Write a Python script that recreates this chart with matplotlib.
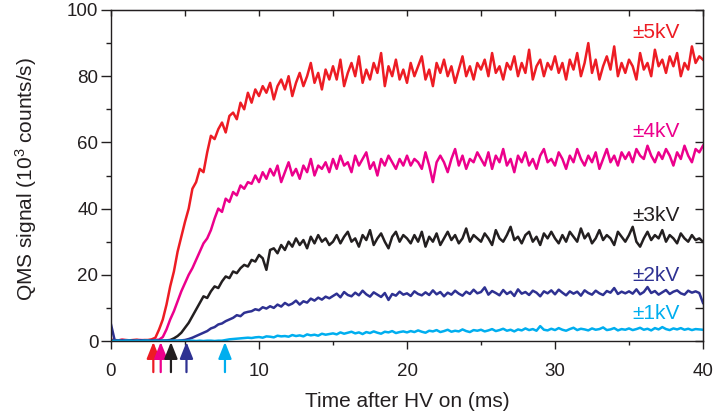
import numpy as np
import matplotlib
matplotlib.use("Agg")
import matplotlib.pyplot as plt

plt.rcParams['font.family'] = ['Liberation Sans', 'DejaVu Sans']
plt.rcParams['mathtext.fontset'] = 'custom'
plt.rcParams['mathtext.rm'] = 'Liberation Sans'
plt.rcParams['mathtext.it'] = 'Liberation Sans:italic'

# time base of the QMS traces (ms), one sample every 0.25 ms
t = np.arange(161) * 0.25

# QMS signal (10^3 counts/s) for each HV setting
sig_5kV = [
    0.4, 0.3, 0.2, 0.4, 0.3, 0.2, 0.3, 0.4, 0.2, 0.3, 0.3, 0.5, 1.0, 3.5, 6.5, 11.0, 16.5, 21.0, 27.0, 31.5,
    36, 40, 46, 48, 52, 51, 57, 62, 61, 64, 66, 63, 68, 69, 67, 72, 70, 75, 72, 76,
    74, 77, 75, 78, 73, 77, 79, 76, 80, 74, 78, 81, 77, 80, 84, 78, 81, 76, 82, 79,
    83, 79, 85, 77, 81, 84, 80, 86, 78, 82, 79, 84, 81, 87, 77, 83, 80, 85, 79, 82,
    78, 84, 80, 83, 86, 79, 82, 77, 84, 81, 85, 80, 83, 78, 82, 86, 80, 83, 79, 84,
    82, 85, 80, 87, 81, 83, 79, 84, 82, 86, 80, 84, 81, 88, 79, 83, 85, 80, 84, 82,
    86, 81, 84, 79, 85, 82, 87, 80, 84, 90, 81, 85, 79, 83, 86, 82, 89, 80, 84, 81,
    85, 83, 79, 87, 82, 84, 80, 88, 83, 85, 81, 86, 83, 87, 80, 84, 82, 89, 84, 86,
    85,
]
sig_4kV = [
    0.2, 0.1, 0.2, 0.3, 0.2, 0.1, 0.2, 0.2, 0.3, 0.2, 0.1, 0.2, 0.3, 0.4, 1.2, 3.5, 6.5, 9.0, 12.0, 15.0,
    17.5, 20, 22, 24.5, 27, 29.5, 31, 33.5, 37, 40, 39, 43, 42, 45, 44, 47, 46, 48, 47.5, 50,
    48, 51, 49, 52, 50, 53, 48, 51, 54, 50, 52, 49, 53, 51, 55, 50, 53, 52, 54, 51,
    55, 52, 56, 53, 54, 51, 56, 53, 55, 57, 52, 54, 50, 55, 53, 56, 54, 52, 55, 53,
    56, 53, 55, 54, 52, 57, 53, 48, 54, 56, 54, 51, 55, 58, 53, 56, 52, 55, 54, 57,
    55, 53, 57, 52, 56, 54, 58, 53, 55, 51, 56, 54, 57, 53, 55, 52, 56, 58, 54, 55,
    53, 57, 55, 52, 56, 54, 58, 55, 53, 56, 54, 57, 52, 55, 58, 54, 56, 53, 57, 55,
    57, 54, 58, 56, 55, 59, 56, 54, 57, 55, 58, 56, 53, 57, 55, 59, 56, 54, 58, 57,
    59,
]
sig_3kV = [
    0.1, 0.1, 0.2, 0.1, 0.1, 0.2, 0.1, 0.1, 0.1, 0.2, 0.1, 0.1, 0.2, 0.1, 0.1, 0.2, 0.3, 0.8, 1.5, 2.5,
    4.0, 5.5, 7.5, 9.5, 11.5, 13.5, 13, 15, 16.5, 16, 18, 19.5, 19, 21, 20.5, 22, 23, 22.5, 24.5, 24,
    26, 25, 21.5, 27.5, 28, 26.5, 29, 27.5, 30, 28.5, 31, 29, 30.5, 28, 31.5, 29.5, 32, 30, 31, 29,
    30, 32, 29.5, 31.5, 33, 30, 31, 28.5, 32, 30.5, 33.5, 29, 31, 32.5, 30, 28, 31.5, 33, 30, 32,
    31, 29.5, 32, 30, 33, 28.5, 31.5, 30, 32.5, 29, 31, 33, 30.5, 32, 29.5, 31, 34, 30, 32, 31,
    30, 32.5, 31, 29, 33.5, 31, 30, 32, 34.5, 30.5, 31.5, 29.5, 32, 33, 30, 31.5, 29, 32.5, 31, 33,
    31, 29.5, 32, 30, 33, 31.5, 30, 34, 31, 32.5, 29.5, 31, 33.5, 30.5, 32, 31, 29, 33, 31.5, 30,
    32, 34.5, 30, 28.5, 31, 33, 30.5, 32, 31, 33.5, 30, 32, 31, 29.5, 32.5, 31, 30, 32, 30.5, 31,
    30,
]
sig_2kV = [
    5.0, 0.2, 0.1, 0.1, 0.2, 0.1, 0.1, 0.1, 0.2, 0.1, 0.1, 0.1, 0.2, 0.1, 0.1, 0.1, 0.2, 0.1, 0.1, 0.2,
    0.3, 0.6, 1.0, 1.5, 2.0, 2.5, 3.0, 3.8, 4.2, 5.0, 5.3, 6.0, 6.5, 7.0, 7.8, 7.5, 8.5, 8.8, 9.0, 9.6,
    9.3, 10.2, 9.8, 10.5, 10.0, 11.0, 10.4, 11.5, 10.8, 11.3, 12.2, 11.0, 12.0, 11.6, 12.8, 12.2, 13.1, 12.5, 13.4, 12.9,
    13.6, 14.3, 13.2, 14.8, 13.9, 13.5, 14.6, 13.8, 15.2, 14.1, 13.4, 14.7, 14.0, 13.3, 14.5, 12.4, 14.2, 13.7, 14.9, 14.0,
    14.4, 13.6, 15.0, 14.2, 13.8, 14.7, 13.9, 15.3, 14.1, 14.8, 13.5, 14.6, 14.0, 15.2, 14.3, 13.7, 14.9, 14.2, 15.5, 14.4,
    14.8, 16.2, 14.0, 15.1, 14.5, 13.8, 15.4, 14.2, 14.9, 13.6, 15.6, 14.3, 14.8, 13.9, 15.2, 14.6, 13.5, 15.0, 14.4, 15.3,
    14.1, 15.5, 14.6, 13.8, 15.0, 14.3, 14.9, 13.7, 15.3, 14.5, 14.0, 15.2, 14.4, 13.9, 15.1, 14.6, 16.0, 14.2, 14.9, 14.4,
    15.0, 14.3, 15.6, 14.1, 14.8, 16.3, 14.5, 15.1, 14.0, 14.7, 15.4, 14.2, 14.9, 15.3, 14.4, 14.0, 15.2, 14.6, 15.0, 14.5,
    11.5,
]
sig_1kV = [
    0.1, 0.0, 0.1, 0.0, 0.1, 0.1, 0.0, 0.1, 0.0, 0.1, 0.1, 0.0, 0.1, 0.0, 0.1, 0.1, 0.0, 0.1, 0.0, 0.1,
    0.0, 0.1, 0.1, 0.0, 0.1, 0.0, 0.1, 0.1, 0.0, 0.1, 0.1, 0.3, 0.5, 0.6, 0.7, 0.8, 0.9, 1.0, 0.9, 1.1,
    1.2, 1.0, 1.4, 1.3, 1.1, 1.6, 1.4, 1.5, 1.3, 1.8, 1.5, 1.7, 1.4, 2.0, 1.7, 1.9, 1.6, 2.2, 1.9, 2.1,
    2.3, 2.0, 2.6, 2.2, 2.5, 2.8, 2.3, 2.6, 2.1, 2.7, 2.4, 2.9, 2.5, 2.2, 2.8, 2.6, 3.0, 2.4, 2.7, 2.9,
    2.6, 3.0, 2.7, 3.2, 2.8, 2.5, 3.1, 2.9, 3.3, 2.7, 3.0, 3.4, 2.8, 3.1, 2.9, 3.5, 3.0, 2.7, 3.3, 3.1,
    3.4, 2.9, 3.2, 3.6, 3.0, 3.3, 3.7, 3.1, 3.4, 2.9, 3.5, 3.2, 3.8, 3.3, 3.6, 3.1, 4.5, 3.4, 3.2, 3.7,
    3.3, 3.9, 3.4, 3.1, 3.6, 4.0, 3.3, 3.7, 3.5, 3.2, 3.8, 3.4, 3.6, 4.1, 3.3, 3.5, 3.9, 3.2, 3.6, 3.4,
    3.8, 3.3, 3.6, 4.0, 3.4, 3.7, 3.2, 3.9, 3.5, 4.2, 3.6, 3.3, 3.8, 3.5, 3.9, 3.4, 3.7, 3.3, 3.6, 3.5,
    3.4,
]

labels = ['\u00b15kV', '\u00b14kV', '\u00b13kV', '\u00b12kV', '\u00b11kV']
colors = ['#ed1c24', '#ec008c', '#231f20', '#2e3192', '#00aeef']
label_y = [93.2, 63.4, 37.8, 19.9, 8.4]
# onset times marked by arrows under the axis (ms)
onsets = [2.86, 3.36, 4.05, 5.1, 7.7]

fig = plt.figure(figsize=(7.13, 4.18), dpi=100)
ax = fig.add_axes([111/713, 77/418, 592/713, 331/418])

for sig, c in zip([sig_5kV, sig_4kV, sig_3kV, sig_2kV, sig_1kV], colors):
    ax.plot(t, sig, color=c, lw=1.8)

for lab, c, y in zip(labels, colors, label_y):
    ax.text(38.45, y, lab, color=c, fontsize=15, ha='right', va='center')

for x, c in zip(onsets, colors):
    ax.annotate('', xy=(x, -0.3), xytext=(x, -9.4),
                arrowprops=dict(arrowstyle='-|>,head_length=1.0,head_width=0.4',
                                mutation_scale=10, color=c, lw=1.6,
                                shrinkA=0, shrinkB=0),
                annotation_clip=False)

ax.set_xlim(0, 40)
ax.set_ylim(0, 100)
ax.set_xticks([0, 10, 20, 30, 40])
ax.set_xticks([5, 15, 25, 35], minor=True)
ax.set_yticks([0, 20, 40, 60, 80, 100])
ax.set_yticks([10, 30, 50, 70, 90], minor=True)
ax.tick_params(axis='both', which='both', labelsize=13.5, color='#231f20', width=1,
               labelcolor='#231f20')
ax.tick_params(axis='x', which='major', direction='out', length=6, pad=10)
ax.tick_params(axis='x', which='minor', direction='out', length=3)
ax.tick_params(axis='y', which='major', direction='out', length=7, pad=2)
ax.tick_params(axis='y', which='minor', direction='out', length=3.5)
for s in ax.spines.values():
    s.set_linewidth(1)
    s.set_color('#231f20')

# inward ticks on the top and right frame
top = ax.secondary_xaxis('top')
top.set_xticks(np.arange(0, 41, 5))
top.tick_params(direction='in', length=4, width=1, labeltop=False, color='#231f20')
right = ax.secondary_yaxis('right')
right.set_yticks(np.arange(0, 101, 10))
right.tick_params(direction='in', length=6, width=1, labelright=False, color='#231f20')

ax.set_xlabel('Time after HV on (ms)', fontsize=15, color='#231f20')
ax.set_ylabel('QMS signal (10$^3$ counts/s)', fontsize=15, color='#231f20')
ax.xaxis.set_label_coords(0.5, -0.155)
ax.yaxis.set_label_coords(-0.122, 0.49)

fig.savefig('out.png', dpi=100)
